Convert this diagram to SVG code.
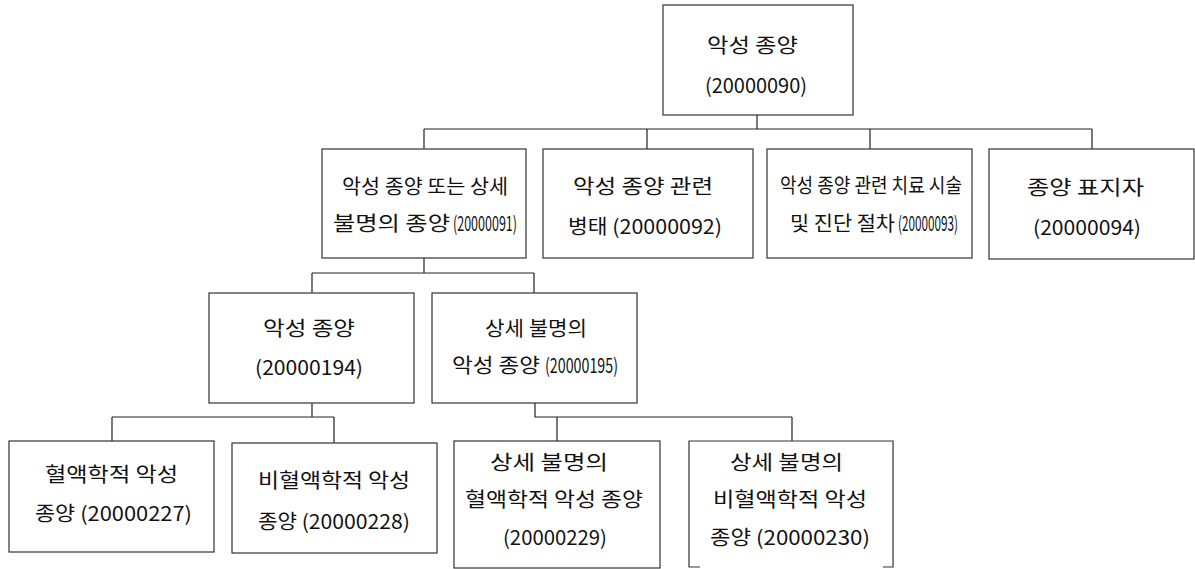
<svg xmlns="http://www.w3.org/2000/svg" width="1195" height="569" viewBox="0 0 1195 569">
<style>
.box{fill:#fff;stroke:#333;stroke-width:1.2}
.t{font-family:"Noto Sans CJK KR","Malgun Gothic",sans-serif;font-size:20px;fill:#111}
.c{fill:none;stroke:#222;stroke-width:1.2}
</style>
<rect width="1195" height="569" fill="#fff"/>
<g id="connectors">
<path class="c" d="M757,115V129M424,129H1092M424,129V149M647,129V149M870,129V149M1092,129V149"/>
<path class="c" d="M424,258V273M312,273H534M312,273V293M534,273V293"/>
<path class="c" d="M312,403V417M112,417H334M112,417V441M334,417V443"/>
<path class="c" d="M535,403V417H792M557,417V441M792,417V441"/>
</g>
<g id="n20000090">
<rect class="box" x="663" y="5" width="190" height="110"/>
<text class="t" x="707" y="52.5" textLength="91" lengthAdjust="spacingAndGlyphs">악성 종양</text>
<text class="t" x="705" y="93" textLength="102" lengthAdjust="spacingAndGlyphs">(20000090)</text>
</g>
<g id="n20000091">
<rect class="box" x="322" y="149" width="204" height="109"/>
<text class="t" x="342" y="194" textLength="166" lengthAdjust="spacingAndGlyphs">악성 종양 또는 상세</text>
<text class="t" x="333" y="230.5" textLength="117" lengthAdjust="spacingAndGlyphs">불명의 종양</text>
<text class="t" x="453" y="230.5" textLength="64" lengthAdjust="spacingAndGlyphs">(20000091)</text>
</g>
<g id="n20000092">
<rect class="box" x="543" y="149" width="210" height="109"/>
<text class="t" x="573" y="193.5" textLength="140" lengthAdjust="spacingAndGlyphs">악성 종양 관련</text>
<text class="t" x="568" y="233.5" textLength="154" lengthAdjust="spacingAndGlyphs">병태 (20000092)</text>
</g>
<g id="n20000093">
<rect class="box" x="767" y="149" width="205" height="109"/>
<text class="t" x="780" y="192.5" textLength="182" lengthAdjust="spacingAndGlyphs">악성 종양 관련 치료 시술</text>
<text class="t" x="790" y="231" textLength="105" lengthAdjust="spacingAndGlyphs">및 진단 절차</text>
<text class="t" x="898" y="231" textLength="60" lengthAdjust="spacingAndGlyphs">(20000093)</text>
</g>
<g id="n20000094">
<rect class="box" x="989" y="149" width="205" height="110"/>
<text class="t" x="1027" y="194.5" textLength="117" lengthAdjust="spacingAndGlyphs">종양 표지자</text>
<text class="t" x="1033" y="235" textLength="108" lengthAdjust="spacingAndGlyphs">(20000094)</text>
</g>
<g id="n20000194">
<rect class="box" x="209" y="293" width="205" height="110"/>
<text class="t" x="263" y="335.5" textLength="92" lengthAdjust="spacingAndGlyphs">악성 종양</text>
<text class="t" x="255" y="375" textLength="108" lengthAdjust="spacingAndGlyphs">(20000194)</text>
</g>
<g id="n20000195">
<rect class="box" x="432" y="293" width="205" height="110"/>
<text class="t" x="485" y="335.5" textLength="102" lengthAdjust="spacingAndGlyphs">상세 불명의</text>
<text class="t" x="452" y="372.5" textLength="88" lengthAdjust="spacingAndGlyphs">악성 종양</text>
<text class="t" x="545" y="372.5" textLength="73" lengthAdjust="spacingAndGlyphs">(20000195)</text>
</g>
<g id="n20000227">
<rect class="box" x="9" y="441" width="205" height="111"/>
<text class="t" x="45" y="481.5" textLength="133" lengthAdjust="spacingAndGlyphs">혈액학적 악성</text>
<text class="t" x="35" y="520.5" textLength="157" lengthAdjust="spacingAndGlyphs">종양 (20000227)</text>
</g>
<g id="n20000228">
<rect class="box" x="232" y="443" width="205" height="110"/>
<text class="t" x="258" y="487.5" textLength="152" lengthAdjust="spacingAndGlyphs">비혈액학적 악성</text>
<text class="t" x="258" y="528.5" textLength="152" lengthAdjust="spacingAndGlyphs">종양 (20000228)</text>
</g>
<g id="n20000229">
<rect class="box" x="454" y="441" width="206" height="127"/>
<text class="t" x="490" y="469.5" textLength="118" lengthAdjust="spacingAndGlyphs">상세 불명의</text>
<text class="t" x="465" y="506.5" textLength="178" lengthAdjust="spacingAndGlyphs">혈액학적 악성 종양</text>
<text class="t" x="503" y="545" textLength="104" lengthAdjust="spacingAndGlyphs">(20000229)</text>
</g>
<g id="n20000230">
<path class="box" d="M700,567H689V441H893V567H883"/>
<text class="t" x="730" y="469.5" textLength="113" lengthAdjust="spacingAndGlyphs">상세 불명의</text>
<text class="t" x="713" y="506.5" textLength="154" lengthAdjust="spacingAndGlyphs">비혈액학적 악성</text>
<text class="t" x="710" y="545" textLength="160" lengthAdjust="spacingAndGlyphs">종양 (20000230)</text>
</g>
</svg>
